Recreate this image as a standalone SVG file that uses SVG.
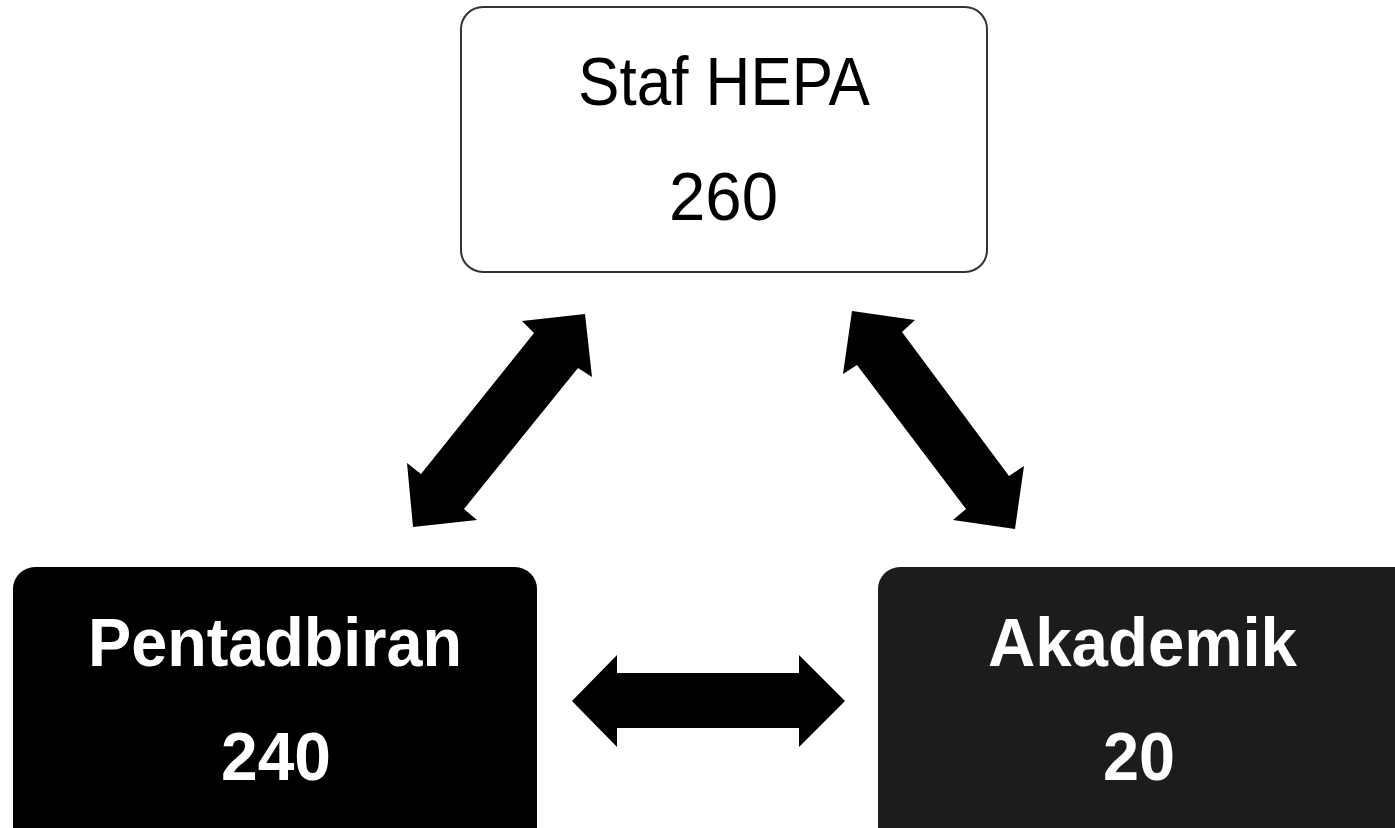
<svg xmlns="http://www.w3.org/2000/svg" width="1395" height="828" viewBox="0 0 1395 828">
<style>
.lbl{font-family:"Liberation Sans",Arial,sans-serif;font-size:68px}
.dark{fill:#000000}
.light{fill:#ffffff;font-weight:bold}
.arrow{fill:#000000}
</style>
<rect x="0" y="0" width="1395" height="828" fill="#ffffff"/>
<g id="node-staf">
<rect x="461" y="7" width="526" height="265" rx="22" ry="22" fill="#ffffff" stroke="#333333" stroke-width="2"/>
<text class="lbl dark" x="578" y="105" textLength="292" lengthAdjust="spacingAndGlyphs">Staf HEPA</text>
<text class="lbl dark" x="669" y="220" textLength="109" lengthAdjust="spacingAndGlyphs">260</text>
</g>
<g id="node-pentadbiran">
<rect x="13" y="567" width="524" height="290" rx="22" ry="22" fill="#000000"/>
<text class="lbl light" x="88" y="666" textLength="374" lengthAdjust="spacingAndGlyphs">Pentadbiran</text>
<text class="lbl light" x="221" y="780" textLength="110" lengthAdjust="spacingAndGlyphs">240</text>
</g>
<g id="node-akademik">
<rect x="878" y="567" width="540" height="290" rx="22" ry="22" fill="#1c1c1c"/>
<text class="lbl light" x="988" y="666" textLength="309" lengthAdjust="spacingAndGlyphs">Akademik</text>
<text class="lbl light" x="1103" y="780" textLength="72" lengthAdjust="spacingAndGlyphs">20</text>
</g>
<g id="connectors">
<polygon class="arrow" points="585,314 592,377 578,368 464,509 477,520 413,527 407,463 421,474 534,333 522,321"/>
<polygon class="arrow" points="852,311 915,320 902,332 1009,476 1024,466 1015,529 953,520 966,509 857,365 843,374"/>
<polygon class="arrow" points="572,701 617,655 617,673 799,673 799,655 845,701 799,747 799,728 617,728 617,747"/>
</g>
</svg>
